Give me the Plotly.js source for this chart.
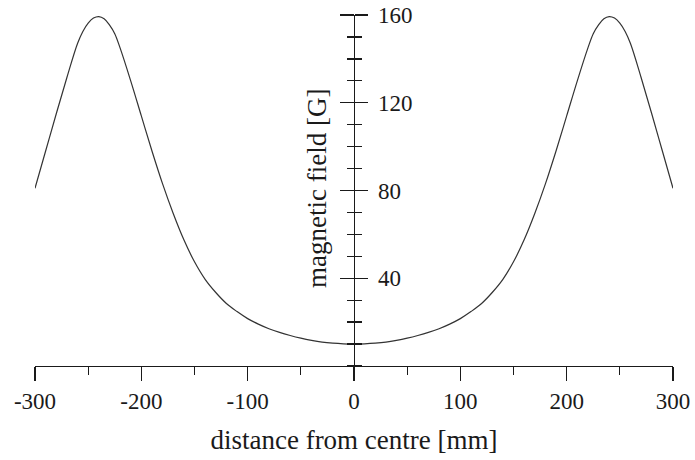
<!DOCTYPE html>
<html>
<head>
<meta charset="utf-8">
<script src="https://cdn.plot.ly/plotly-3.0.1.min.js"></script>
<style>html,body{margin:0;padding:0;background:#fff}#chart{width:695px;height:460px}</style>
</head>
<body>
<div id="chart"></div>
<script>
// distance from centre [mm]
const distance = [-300,-290,-280,-270,-260,-255,-250,-245,-240,-235,-230,-225,-220,-210,-200,-190,-180,-170,-160,-150,-140,-130,-120,-110,-100,-90,-80,-70,-60,-50,-40,-30,-20,-10,
  0,10,20,30,40,50,60,70,80,90,100,110,120,130,140,150,160,170,180,190,200,210,220,225,230,235,240,245,250,255,260,270,280,290,300];
// magnetic field [G]
const field = [81,98,115,131.5,147,152.5,156.3,158.6,159.3,158.3,155.5,151.5,145,130,114,98,83,69.5,57.5,47.5,39.5,33.5,28.5,24.8,21.6,19.1,17,15.3,13.9,12.7,11.7,10.9,10.4,10.1,
  10,10.1,10.4,10.9,11.7,12.7,13.9,15.3,17,19.1,21.6,24.8,28.5,33.5,39.5,47.5,57.5,69.5,83,98,114,130,145,151.5,155.5,158.3,159.3,158.6,156.3,152.5,147,131.5,115,98,81];

const xTickVals = [-300,-200,-100,0,100,200,300];
const xTickText = ['-300','-200','-100','0','100','200','300'];
const yTickVals = [40,80,120,160];
const yTickText = ['40','80','120','160'];
const xTitle = 'distance from centre [mm]';
const yTitle = 'magnetic field [G]';

const serif = 'Liberation Serif, Times New Roman, serif';
const ink = '#1a1a1a';

const data = [
  {x: distance, y: field, type: 'scatter', mode: 'lines',
   line: {color: '#333', width: 1.2, shape: 'spline', smoothing: 1},
   cliponaxis: false, hoverinfo: 'x+y', showlegend: false},
  {x: [], y: [], yaxis: 'y2', type: 'scatter', mode: 'lines', showlegend: false, hoverinfo: 'skip'}
];

const layout = {
  width: 695, height: 460,
  margin: {l: 35, r: 22, t: 15, b: 94},
  paper_bgcolor: '#fff', plot_bgcolor: '#fff',
  font: {family: serif, color: ink, size: 23},
  xaxis: {
    range: [-300, 300], showgrid: false, zeroline: false,
    showline: true, linecolor: ink, linewidth: 1.3,
    ticks: 'outside', ticklen: 14, tickwidth: 1.3, tickcolor: ink,
    tickmode: 'array', tickvals: xTickVals, ticktext: xTickText,
    tickfont: {family: serif, size: 23, color: ink},
    minor: {tickmode: 'linear', tick0: 0, dtick: 50, ticks: 'outside', ticklen: 8, tickwidth: 1.3, tickcolor: ink},
    title: {text: xTitle, font: {family: serif, size: 27, color: ink}, standoff: 17},
    fixedrange: true
  },
  yaxis: {
    range: [0, 160], showgrid: false, zeroline: false,
    anchor: 'free', position: 0.5, side: 'right',
    showline: true, linecolor: ink, linewidth: 1.3,
    ticks: 'outside', ticklen: 13, tickwidth: 1.3, tickcolor: ink,
    tickmode: 'array', tickvals: yTickVals, ticktext: yTickText,
    tickfont: {family: serif, size: 23, color: ink},
    ticklabelstandoff: 5,
    minor: {tickmode: 'linear', tick0: 0, dtick: 10, ticks: 'outside', ticklen: 7, tickwidth: 1.3, tickcolor: ink},
    fixedrange: true
  },
  yaxis2: {
    range: [0, 160], overlaying: 'y', anchor: 'free', position: 0.5, side: 'left',
    showgrid: false, zeroline: false, showline: false, showticklabels: false,
    ticks: 'outside', ticklen: 14, tickwidth: 1.3, tickcolor: ink,
    tickmode: 'array', tickvals: yTickVals,
    minor: {tickmode: 'linear', tick0: 0, dtick: 10, ticks: 'outside', ticklen: 7, tickwidth: 1.3, tickcolor: ink},
    fixedrange: true
  },
  annotations: [{
    text: yTitle, xref: 'paper', yref: 'paper', x: 0.442, y: 0.507,
    xanchor: 'center', yanchor: 'middle', textangle: -90, showarrow: false,
    font: {family: serif, size: 27, color: ink}
  }]
};

Plotly.newPlot('chart', data, layout, {displayModeBar: false, staticPlot: true});
</script>
</body>
</html>
